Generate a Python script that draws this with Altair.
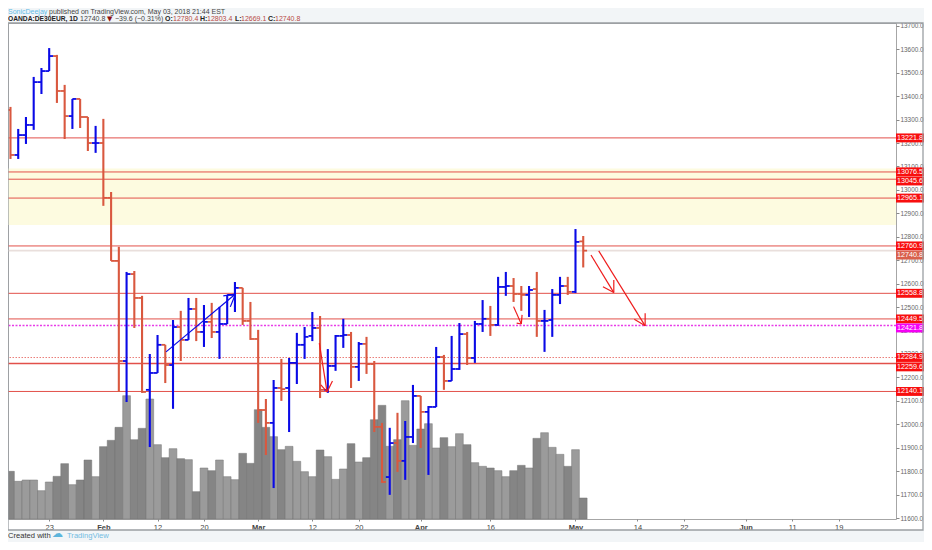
import altair as alt
import pandas as pd

FONT = "Liberation Sans"
BLUE = "#0a0ae6"
RED = "#d9583f"

OPEN = [13341,13149,13234,13277,13460,13507,13571,13422,13315,13388,13311,13200,13200,12966,12697,12270,12641,12539,12147,12219,
        12339,12253,12415,12360,12492,12394,12437,12394,12428,12552,12582,12441,12364,12061,12006,12155,12155,12262,12339,12377,
        12411,12147,12249,12377,12381,12245,12343,12257,11989,11775,11920,11844,11946,12121,12053,12074,12287,12185,12236,12385,
        12283,12428,12450,12424,12586,12590,12556,12552,12577,12441,12445,12552,12590,12565,12780.4]
HIGH = [13354,13260,13311,13482,13520,13605,13576,13448,13388,13388,13311,13273,13303,12991,12757,12650,12654,12548,12300,12381,
        12339,12445,12484,12539,12539,12509,12518,12501,12552,12607,12582,12522,12403,12108,12189,12279,12283,12390,12415,12479,
        12462,12321,12381,12450,12394,12351,12373,12270,12006,11985,12049,12014,12168,12121,12078,12330,12296,12377,12432,12394,
        12441,12530,12505,12629,12650,12624,12590,12590,12650,12488,12577,12629,12629,12833,12803.4]
LOW = [13132,13132,13196,13256,13409,13507,13371,13217,13260,13264,13166,13158,12932,12697,12138,12095,12411,12134,11903,12219,
       12176,12066,12270,12360,12355,12330,12368,12279,12428,12479,12424,12360,12006,11869,11728,12100,11967,12172,12279,12355,
       12112,12134,12228,12326,12155,12185,12215,11967,11750,11699,11797,11763,11920,11899,11784,12074,12147,12185,12232,12253,
       12262,12394,12377,12420,12548,12522,12484,12458,12373,12309,12373,12513,12552,12560,12669.1]
CLOSE = [13149,13234,13277,13460,13507,13571,13422,13315,13388,13311,13200,13200,12966,12697,12270,12641,12539,12138,12219,12339,
         12253,12415,12360,12492,12394,12437,12394,12428,12552,12582,12441,12364,12061,12006,12155,12150,12262,12339,12373,12411,
         12147,12249,12377,12381,12245,12343,12257,11989,11754,11920,11844,11946,12121,12053,12074,12287,12185,12236,12385,12283,
         12428,12450,12424,12586,12590,12556,12552,12573,12441,12441,12552,12590,12565,12778,12740.8]
VOLUME = [143,113,117,117,85,111,128,166,103,117,177,127,217,236,275,370,238,272,360,223,
          184,211,181,178,82,153,145,177,127,118,197,167,328,275,247,208,218,173,142,127,
          207,187,119,150,226,171,184,298,341,218,238,355,221,270,286,213,244,217,256,223,
          169,158,153,145,127,145,161,153,242,259,215,194,158,208,63]

LEVELS = [13221.8, 13076.5, 13045.6, 12965.1, 12760.9, 12558.8, 12449.5, 12259.6, 12140.1]
LEVEL_WIDTH = [1, 1, 1, 1, 1, 1, 1, 1.6, 1]
DOTTED_MAGENTA = 12421.8
DOTTED_RED = 12284.9
LAST_PRICE = 12740.8
BAND_TOP, BAND_BOTTOM = 13091, 12850

TAG_VALUES = [13221.8, 13076.5, 13045.6, 12965.1, 12760.9, 12740.8, 12558.8, 12449.5, 12421.8, 12284.9, 12259.6, 12140.1]
TAG_AT =     [13221.8, 13077,   13038,   12965.1, 12761,   12722,   12558.8, 12449.5, 12411,   12285,   12245,   12140.1]
TAG_FILL = ["#f80f0f"] * 5 + ["#d9604c", "#f80f0f", "#f80f0f", "#f500f5", "#f80f0f", "#f80f0f", "#f80f0f"]

ARROWS = [  # x0, price0, x1, price1, colour
    (20.1, 12309, 29.07, 12556, BLUE), (27.5, 12548, 29.07, 12556, BLUE), (28.4, 12501, 29.07, 12556, BLUE),
    (39.9, 12346, 40.9, 12138, "#ee1c1c"), (40.1, 12168, 40.9, 12138, "#ee1c1c"), (41.6, 12185, 40.9, 12138, "#ee1c1c"),
    (65.0, 12502, 66.0, 12428, "#ee1c1c"), (65.4, 12432, 66.0, 12428, "#ee1c1c"), (66.1, 12467, 66.0, 12428, "#ee1c1c"),
    (75.0, 12722, 77.95, 12562, "#ee1c1c"), (76.55, 12587, 77.95, 12562, "#ee1c1c"), (77.95, 12616, 77.95, 12562, "#ee1c1c"),
    (76.0, 12740, 82.0, 12420, "#ee1c1c"), (80.6, 12448, 82.0, 12420, "#ee1c1c"), (82.0, 12474, 82.0, 12420, "#ee1c1c"),
]

X_TICKS = [5, 12, 19, 25, 32, 39, 45, 53, 62, 73, 81, 87, 95, 101, 107]
X_LABELS = ["23", "Feb", "12", "20", "Mar", "12", "20", "Apr", "16", "May", "14", "22", "Jun", "11", "19"]
MONTHS = [12, 32, 53, 73, 95]
Y_TICKS = list(range(11600, 13800, 100))

PAD_TOP, PLOT_W, PLOT_H = 15, 888, 496
X_DOMAIN = [-0.32, 114.41]
Y_DOMAIN = [11596, 13712]
VOL_MAX = 1488

n = len(OPEN)
bars = pd.DataFrame({"i": range(n), "open": OPEN, "high": HIGH, "low": LOW, "close": CLOSE, "vol": VOLUME})
bars["color"] = [BLUE if c >= o else RED for o, c in zip(OPEN, CLOSE)]
bars["volfill"] = ["#969696" if c >= o else "#7f7f7f" for o, c in zip(OPEN, CLOSE)]
bars["l"] = bars.i - 0.5
bars["r"] = bars.i + 0.5
bars["base"] = Y_DOMAIN[0]
bars["voltop"] = Y_DOMAIN[0] + bars.vol * (Y_DOMAIN[1] - Y_DOMAIN[0]) / VOL_MAX

label_map = "{" + ",".join(f"'{t}':'{s}'" for t, s in zip(X_TICKS, X_LABELS)) + "}"
month_test = " || ".join(f"datum.value == {m}" for m in MONTHS)
XAX = alt.Axis(values=X_TICKS, labelExpr=f"{label_map}[datum.value]", title=None, grid=False, domain=False,
               tickSize=2, tickColor="#888", labelColor="#444", labelFont=FONT, labelFontSize=7.5,
               labelPadding=2, labelFlush=False, labelOverlap=False,
               labelFontWeight={"condition": {"test": month_test, "value": "bold"}, "value": "normal"})
YAX = alt.Axis(values=Y_TICKS, format=".1f", title=None, grid=False, domain=False, orient="right",
               tickSize=3, tickColor="#888", labelColor="#666", labelFont=FONT, labelFontSize=6.4,
               labelPadding=1, labelBound=False, labelFlush=False, labelOverlap=False)
XS = alt.Scale(domain=X_DOMAIN, nice=False, zero=False)
YS = alt.Scale(domain=Y_DOMAIN, nice=False, zero=False)


def X(f):
    return alt.X(f, scale=XS, axis=XAX)


def Y(f):
    return alt.Y(f, scale=YS, axis=YAX)


layers = []
STRIP = "#f2f5f7"
FULL_W = 916
FRAME_B = 507
# page strips around the frame
for x0, x1, y0, y1 in [(0, FULL_W, -15, 0), (0, FULL_W, FRAME_B, 525)]:
    layers.append(alt.Chart(pd.DataFrame({"a": [0]})).mark_rect(color=STRIP).encode(
        x=alt.value(x0), x2=alt.value(x1), y=alt.value(y0), y2=alt.value(y1)))

layers.append(alt.Chart(pd.DataFrame({"t": [BAND_TOP], "b": [BAND_BOTTOM]})).mark_rect(color="#fdfbe0").encode(
    y=Y("t:Q"), y2="b:Q"))

layers.append(alt.Chart(bars).mark_rect(stroke="#6f6f6f", strokeWidth=0.5, opacity=0.95).encode(
    x=X("l:Q"), x2="r:Q", y=Y("voltop:Q"), y2="base:Q", fill=alt.Fill("volfill:N", scale=None)))

layers.append(alt.Chart(pd.DataFrame({"p": [LAST_PRICE]})).mark_rule(color="#e9dfdc", strokeWidth=1.6).encode(y=Y("p:Q")))
layers.append(alt.Chart(pd.DataFrame({"p": LEVELS, "w": LEVEL_WIDTH})).mark_rule(color="#e2504a").encode(
    y=Y("p:Q"), strokeWidth=alt.StrokeWidth("w:Q", scale=None)))
layers.append(alt.Chart(pd.DataFrame({"p": [DOTTED_MAGENTA]})).mark_rule(
    color="#e83ce8", strokeWidth=1.5, strokeDash=[2, 1.5]).encode(y=Y("p:Q")))
layers.append(alt.Chart(pd.DataFrame({"p": [DOTTED_RED]})).mark_rule(
    color="#ea7d78", strokeWidth=1, strokeDash=[1.5, 1.5]).encode(y=Y("p:Q")))

layers.append(alt.Chart(bars).mark_rule(strokeWidth=2.1).encode(
    x=X("i:Q"), y=Y("low:Q"), y2="high:Q", color=alt.Color("color:N", scale=None)))
layers.append(alt.Chart(bars).mark_rule(strokeWidth=1.8).encode(
    x=X("l:Q"), x2="i:Q", y=Y("open:Q"), color=alt.Color("color:N", scale=None)))
layers.append(alt.Chart(bars).mark_rule(strokeWidth=1.8).encode(
    x=X("i:Q"), x2="r:Q", y=Y("close:Q"), color=alt.Color("color:N", scale=None)))

arrows = pd.DataFrame(ARROWS, columns=["x0", "p0", "x1", "p1", "c"])
layers.append(alt.Chart(arrows).mark_rule(strokeWidth=1.2).encode(
    x=X("x0:Q"), x2="x1:Q", y=Y("p0:Q"), y2="p1:Q", color=alt.Color("c:N", scale=None)))

# price tags on the right-hand scale
tag_half = 19
tags = pd.DataFrame({"p": TAG_AT, "v": TAG_VALUES, "fill": TAG_FILL})
tags["t"] = tags.p + tag_half
tags["b"] = tags.p - tag_half
tags["txt"] = tags.v.map(lambda v: f"{v:.1f}")
layers.append(alt.Chart(tags).mark_rect().encode(
    x=alt.value(PLOT_W), x2=alt.value(FULL_W), y=Y("t:Q"), y2="b:Q", fill=alt.Fill("fill:N", scale=None)))
layers.append(alt.Chart(tags).mark_text(font=FONT, fontSize=7.2, color="white", align="center", baseline="middle").encode(
    x=alt.value(PLOT_W + 14), y=Y("p:Q"), text="txt:N"))

# outer frame
layers.append(alt.Chart(pd.DataFrame({"a": [0]})).mark_rect(fill="transparent", stroke="#9a9fa3", strokeWidth=1.3).encode(
    x=alt.value(0), x2=alt.value(FULL_W - 1), y=alt.value(0), y2=alt.value(FRAME_B)))


def note(txt, x, y, color="#333", weight="normal", size=7, font=FONT):
    return alt.Chart(pd.DataFrame({"txt": [txt]})).mark_text(
        font=font, fontSize=size, color=color, fontWeight=weight, align="left", baseline="middle"
    ).encode(x=alt.value(x), y=alt.value(y), text="txt:N")


ROW1, ROW2 = -11.5, -3.7
VAL = "#b84a44"
layers += [
    note("SonicDeejay", 0, ROW1, "#63bce6"),
    note("published on TradingView.com, May 03, 2018 21:44 EST", 41, ROW1, "#444"),
    note("OANDA:DE30EUR, 1D", 0, ROW2, "#222", "bold", 6.7),
    note("12740.8", 72, ROW2, "#444"),
    note("▼", 99, ROW2, "#8b0f0f", size=7, font="DejaVu Sans"),
    note("−39.6 (−0.31%)", 107, ROW2, "#444"),
    note("O:", 157, ROW2, "#222", "bold"),
    note("12780.4", 165, ROW2, VAL),
    note("H:", 192, ROW2, "#222", "bold"),
    note("12803.4", 199, ROW2, VAL),
    note("L:", 227, ROW2, "#222", "bold"),
    note("12669.1", 233, ROW2, VAL),
    note("C:", 260, ROW2, "#222", "bold"),
    note("12740.8", 267, ROW2, VAL),
    note("Created with", 0, 513, "#333", size=7.6),
    note("☁", 44, 511, "#5db5dc", size=11, font="DejaVu Sans"),
    note("TradingView", 59, 513, "#72bce2", size=7.6),
]

chart = alt.layer(*layers).properties(
    width=PLOT_W, height=PLOT_H,
    padding={"left": 0, "top": PAD_TOP, "right": FULL_W - PLOT_W, "bottom": 23},
    autosize=alt.AutoSizeParams(type="none"),
    background="white",
).configure_view(stroke="#a6a6a6", strokeWidth=1, fill="white")

chart.save("out.html", embed_options={"renderer": "svg", "actions": False})
